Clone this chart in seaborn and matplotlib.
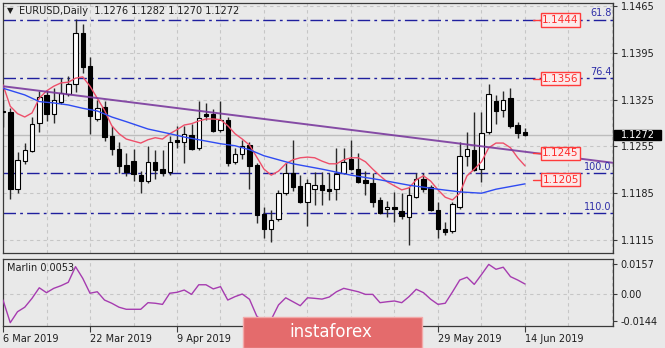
import matplotlib
matplotlib.use("Agg")
import matplotlib.pyplot as plt
import matplotlib.transforms as mtransforms
from matplotlib.patches import Rectangle
import numpy as np
import pandas as pd
import seaborn as sns

# ---------------- data ----------------
dates = pd.bdate_range("2019-03-06", periods=73)

opens = [1.1308, 1.1307, 1.1192, 1.1233, 1.1248, 1.1290, 1.1332, 1.1303, 1.1321, 1.1333,
         1.1349, 1.1424, 1.1375, 1.1296, 1.1314, 1.1271, 1.1251, 1.1227, 1.1233, 1.1212,
         1.1203, 1.1232, 1.1221, 1.1216, 1.1264, 1.1261, 1.1272, 1.1252, 1.1304, 1.1303,
         1.1279, 1.1295, 1.1231, 1.1244, 1.1257, 1.1227, 1.1154, 1.1131, 1.1146, 1.1185,
         1.1215, 1.1196, 1.1172, 1.1192, 1.1197, 1.1192, 1.1191, 1.1215, 1.1236, 1.1221,
         1.1205, 1.1201, 1.1175, 1.1161, 1.1165, 1.1159, 1.1150, 1.1180, 1.1207, 1.1194,
         1.1160, 1.1132, 1.1129, 1.1165, 1.1240, 1.1250, 1.1221, 1.1276, 1.1323, 1.1310,
         1.1327, 1.1287, 1.1276]
highs = [1.1324, 1.1312, 1.1247, 1.1260, 1.1299, 1.1338, 1.1340, 1.1343, 1.1358, 1.1360,
         1.1446, 1.1438, 1.1389, 1.1325, 1.1323, 1.1285, 1.1262, 1.1245, 1.1251, 1.1218,
         1.1256, 1.1249, 1.1249, 1.1270, 1.1285, 1.1286, 1.1288, 1.1323, 1.1320, 1.1311,
         1.1323, 1.1299, 1.1252, 1.1264, 1.1262, 1.1230, 1.1164, 1.1160, 1.1190, 1.1230,
         1.1265, 1.1212, 1.1207, 1.1216, 1.1216, 1.1215, 1.1252, 1.1252, 1.1264, 1.1245,
         1.1218, 1.1215, 1.1180, 1.1174, 1.1187, 1.1185, 1.1195, 1.1215, 1.1215, 1.1198,
         1.1172, 1.1142, 1.1172, 1.1262, 1.1277, 1.1307, 1.1307, 1.1348, 1.1332, 1.1338,
         1.1343, 1.1291, 1.1282]
lows = [1.1284, 1.1177, 1.1185, 1.1228, 1.1246, 1.1277, 1.1293, 1.1290, 1.1318, 1.1330,
        1.1337, 1.1365, 1.1273, 1.1293, 1.1263, 1.1242, 1.1215, 1.1210, 1.1204, 1.1185,
        1.1201, 1.1207, 1.1210, 1.1212, 1.1252, 1.1230, 1.1249, 1.1250, 1.1295, 1.1276,
        1.1276, 1.1226, 1.1229, 1.1236, 1.1192, 1.1141, 1.1118, 1.1112, 1.1144, 1.1183,
        1.1189, 1.1170, 1.1136, 1.1167, 1.1167, 1.1175, 1.1175, 1.1213, 1.1219, 1.1200,
        1.1182, 1.1164, 1.1154, 1.1150, 1.1142, 1.1147, 1.1108, 1.1178, 1.1187, 1.1158,
        1.1118, 1.1122, 1.1125, 1.1162, 1.1226, 1.1218, 1.1202, 1.1274, 1.1289, 1.1299,
        1.1282, 1.1267, 1.1270]
closes = [1.1306, 1.1192, 1.1234, 1.1249, 1.1288, 1.1329, 1.1303, 1.1324, 1.1335, 1.1349,
          1.1424, 1.1373, 1.1301, 1.1312, 1.1269, 1.1251, 1.1226, 1.1216, 1.1213, 1.1203,
          1.1231, 1.1220, 1.1215, 1.1262, 1.1262, 1.1274, 1.1251, 1.1298, 1.1301, 1.1278,
          1.1295, 1.1230, 1.1244, 1.1255, 1.1226, 1.1152, 1.1132, 1.1145, 1.1185, 1.1215,
          1.1195, 1.1172, 1.1201, 1.1197, 1.1190, 1.1189, 1.1214, 1.1232, 1.1221, 1.1202,
          1.1200, 1.1172, 1.1156, 1.1165, 1.1161, 1.1151, 1.1182, 1.1207, 1.1192, 1.1160,
          1.1131, 1.1127, 1.1169, 1.1241, 1.1251, 1.1220, 1.1275, 1.1333, 1.1308, 1.1324,
          1.1285, 1.1275, 1.1272]

# fast moving average (red), one value per bar
fast_ma = [1.1347, 1.1315, 1.1304, 1.1299, 1.1305, 1.1327, 1.1338, 1.1345, 1.1350, 1.1351,
           1.1357, 1.1359, 1.1345, 1.1327, 1.1309, 1.1286, 1.1274, 1.1266, 1.1263, 1.1260,
           1.1265, 1.1268, 1.1266, 1.1274, 1.1280, 1.1287, 1.1289, 1.1293, 1.1296, 1.1296,
           1.1295, 1.1286, 1.1274, 1.1266, 1.1257, 1.1239, 1.1221, 1.1212, 1.1218, 1.1229,
           1.1235, 1.1238, 1.1239, 1.1238, 1.1233, 1.1229, 1.1229, 1.1235, 1.1238, 1.1238,
           1.1232, 1.1221, 1.1211, 1.1202, 1.1196, 1.1190, 1.1193, 1.1205, 1.1211, 1.1203,
           1.1190, 1.1179, 1.1175, 1.1185, 1.1211, 1.1221, 1.1232, 1.1253, 1.1260, 1.1260,
           1.1253, 1.1238, 1.1226]

# slow moving average (blue), sampled bars
slow_ma_bars = [0, 3, 5, 7, 9, 11, 13, 15, 17, 20, 23, 25, 27, 30, 32, 34, 36, 40, 44,
                48, 52, 56, 60, 63, 66, 68, 72]
slow_ma = [1.1342, 1.1332, 1.1322, 1.1320, 1.1317, 1.1312, 1.1308, 1.1299, 1.1292, 1.1281,
           1.1274, 1.1269, 1.1265, 1.1259, 1.1256, 1.1250, 1.1241, 1.1229, 1.1221, 1.1212,
           1.1205, 1.1197, 1.1191, 1.1187, 1.1185, 1.1191, 1.1199]

# descending trend line anchors (bar, price)
trend_bars = [0, 72]
trend_prices = [1.1345, 1.1247]

# Fibonacci expansion levels
fib_levels = [1.1444, 1.1357, 1.1215, 1.1155]
fib_names = ["61.8", "76.4", "100.0", "110.0"]

# target price tags
tag_prices = [1.1444, 1.1356, 1.1245, 1.1205]
tag_texts = ["1.1444", "1.1356", "1.1245", "1.1205"]

# Marlin oscillator
marlin = [-0.0032, -0.0152, -0.0094, -0.0070, -0.0023, 0.0033, 0.0007, 0.0030, 0.0044, 0.0062,
          0.0145, 0.0083, 0.0004, 0.0012, -0.0032, -0.0049, -0.0070, -0.0081, -0.0081, -0.0081,
          -0.0046, -0.0049, -0.0055, 0.0004, 0.0009, 0.0021, -0.0002, 0.0049, 0.0049, 0.0027,
          0.0039, -0.0032, -0.0014, 0.0000, -0.0028, -0.0117, -0.0150, -0.0135, -0.0058, -0.0020,
          -0.0041, -0.0062, -0.0020, -0.0023, -0.0027, -0.0016, 0.0012, 0.0030, 0.0021, 0.0012,
          -0.0002, -0.0002, -0.0046, -0.0041, -0.0037, -0.0046, -0.0014, 0.0025, 0.0007, -0.0028,
          -0.0055, -0.0049, 0.0011, 0.0074, 0.0089, 0.0051, 0.0103, 0.0157, 0.0131, 0.0142,
          0.0092, 0.0074, 0.0053]

price_ticks = [1.1465, 1.1395, 1.1325, 1.1255, 1.1185, 1.1115]
marlin_ticks = [0.0157, 0.0, -0.0144]
marlin_tick_labels = ["0.0157", "0.00", "-0.0144"]
date_tick_bars = [0, 12, 24, 36, 48, 60, 72]
date_label_bars = [0, 12, 24, 60, 72]      # the others sit under the brand badge
last_price = 1.1272
symbol_title = "EURUSD,Daily  1.1276 1.1282 1.1270 1.1272"

# ---------------- style ----------------
BG = "#E9E9E9"
sns.set_theme(style="white")
plt.rcParams["font.family"] = ["DejaVu Sans"]
plt.rcParams["font.size"] = 7

W, H = 665, 348
fig = plt.figure(figsize=(W / 100, H / 100), dpi=100, facecolor=BG)

def fig_box(x0, y0, x1, y1):
    return [x0 / W, 1 - y1 / H, (x1 - x0) / W, (y1 - y0) / H]

ax = fig.add_axes(fig_box(2.5, 2.5, 613, 253), facecolor=BG)
ax2 = fig.add_axes(fig_box(2.5, 258.5, 613, 326), facecolor=BG, sharex=ax)

bars = pd.DataFrame({"bar": np.arange(len(opens)), "open": opens, "high": highs,
                     "low": lows, "close": closes, "fast": fast_ma, "marlin": marlin})
slow = pd.DataFrame({"bar": slow_ma_bars, "slow": slow_ma})

x_lo, x_hi = -0.07, 84.14
ax.set_xlim(x_lo, x_hi)
ax.set_ylim(1.10956, 1.14702)
ax2.set_ylim(-0.01696, 0.01882)

grid_kw = dict(color="#C6C6C6", lw=0.8, ls=(0, (3, 3)), zorder=0)
for b in range(6, 85, 6):
    ax.axvline(b, **grid_kw)
    ax2.axvline(b, **grid_kw)
for p in price_ticks:
    ax.axhline(p, **grid_kw)
ax2.axhline(0.0, **grid_kw)

# current bid line
ax.axhline(last_price, color="#BDBDBD", lw=1, zorder=1)

# Fibonacci levels
blend = mtransforms.blended_transform_factory(ax.transAxes, ax.transData)
for lvl, name in zip(fib_levels, fib_names):
    ax.axhline(lvl, color="#1F1F9E", lw=1, ls=(0, (9, 3, 2, 3)), zorder=2)
    ax.text(0.998, lvl + 0.00024, name, transform=blend, ha="right", va="bottom",
            color="#2E2EA8", fontsize=7, zorder=6)

# candles
up = bars["close"] >= bars["open"]
ax.vlines(bars["bar"], bars["low"], bars["high"], color="#2A2A2A", lw=1, zorder=3)
body_lo = np.minimum(bars["open"], bars["close"])
body_h = np.maximum(np.abs(bars["close"] - bars["open"]), 0.00005)
ax.bar(bars["bar"], body_h, bottom=body_lo, width=0.62,
       color=np.where(up, "white", "black"), edgecolor="black", lw=0.8, zorder=4)

# moving averages and trend line
sns.lineplot(data=bars, x="bar", y="fast", ax=ax, color="#EE4F6A", lw=1, zorder=5)
sns.lineplot(data=slow, x="bar", y="slow", ax=ax, color="#2F4BF2", lw=1, zorder=5)
ax.axline((trend_bars[0], trend_prices[0]), (trend_bars[1], trend_prices[1]),
          color="#7A3A9E", lw=1.4, alpha=0.9, zorder=5)

# price tags with leader lines
for p, t in zip(tag_prices, tag_texts):
    ax.plot([73.1, 74.4], [p, p], color="#FF3B3B", lw=1, zorder=6)
    ax.text(76.9, p, t, ha="center", va="center", color="#FF2A2A", fontsize=7.5, zorder=7,
            bbox=dict(boxstyle="square,pad=0.15", fc="#FBEAEA", ec="#FF3B3B", lw=1))

# oscillator
sns.lineplot(data=bars, x="bar", y="marlin", ax=ax2, color="#A63CB0", lw=1, zorder=5)

# axes cosmetics
for a in (ax, ax2):
    a.set_xlabel("")
    a.set_ylabel("")
    for s in a.spines.values():
        s.set_color("#3A3A3A")
        s.set_linewidth(0.9)
    a.yaxis.tick_right()
    a.tick_params(axis="y", which="both", right=True, left=False, length=3, width=0.8,
                  colors="#3A3A3A", labelcolor="#1E1E1E", labelsize=7, pad=2.5)

ax.set_yticks(price_ticks)
ax.set_yticklabels([f"{p:.4f}" for p in price_ticks])
ax.tick_params(axis="x", bottom=False, labelbottom=False)

ax2.set_yticks(marlin_ticks)
ax2.set_yticklabels(marlin_tick_labels)
ax2.set_xticks(date_tick_bars)
ax2.set_xticklabels([f"{dates[b].day} {dates[b]:%b %Y}" if b in date_label_bars else ""
                     for b in date_tick_bars])
ax2.tick_params(axis="x", bottom=True, length=4, width=0.8, colors="#3A3A3A",
                labelcolor="#1E1E1E", labelsize=7, pad=1.5)
for lab in ax2.get_xticklabels():
    lab.set_horizontalalignment("left")
ax.set_xlim(x_lo, x_hi)

# headers
fig.text(7 / W, 1 - 11 / H, "\u25BC", fontsize=6, color="#1E1E1E", va="center", ha="left")
fig.text(19 / W, 1 - 11 / H, symbol_title, fontsize=7, color="#1E1E1E", va="center", ha="left")
fig.text(7 / W, 1 - 268 / H, f"Marlin {marlin[-1]:.4f}", fontsize=7, color="#1E1E1E",
         va="center", ha="left")

# last price box on the price scale
y_last = fig.transFigure.inverted().transform(ax.transData.transform((0, last_price)))[1]
fig.patches.append(Rectangle((614 / W, y_last - 5.2 / H), 47 / W, 10.4 / H,
                             transform=fig.transFigure, fc="black", ec="black", zorder=10))
fig.text(637.5 / W, y_last, f"{last_price:.4f}", color="white", fontsize=7, ha="center",
         va="center", zorder=11)

# brand badge
fig.patches.append(Rectangle((243 / W, 0), 179 / W, 31 / H, transform=fig.transFigure,
                             fc="#E46B6C", ec="#F3A9A9", lw=1, zorder=20))
fig.text(331 / W, 1 - 332 / H, "instaforex", color="white", fontsize=12, ha="center",
         va="center", zorder=21)

fig.savefig("out.png", dpi=100, facecolor=BG)
